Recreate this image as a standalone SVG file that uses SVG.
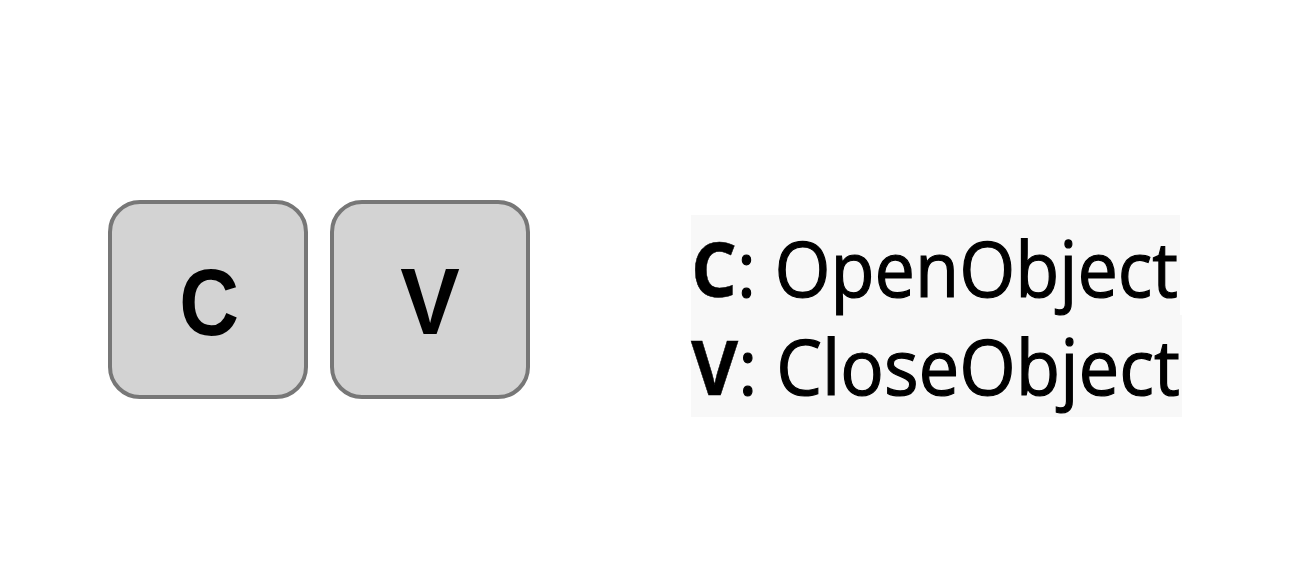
<svg xmlns="http://www.w3.org/2000/svg" width="1315" height="586" viewBox="0 0 1315 586">
<style>
.key{fill:#d3d3d3;stroke:#777;stroke-width:4}
.kl{font-family:"Liberation Sans",Arial,sans-serif;font-weight:bold;font-size:94px;fill:#000;text-anchor:middle}
.lg{font-family:"Open Sans","Noto Sans",sans-serif;font-size:76px;fill:#000;stroke:#000;stroke-width:1.2}
.b{font-weight:bold;stroke-width:0.5}
</style>
<rect width="1315" height="586" fill="#fff"/>
<g id="key-c">
<rect class="key" x="110" y="202" width="196" height="195" rx="30"/>
<text class="kl" transform="translate(209 335) scale(0.88 1)" x="0" y="0">C</text>
</g>
<g id="key-v">
<rect class="key" x="332" y="202" width="196" height="195" rx="30"/>
<text class="kl" transform="translate(430 334) scale(0.95 1)" x="0" y="0">V</text>
</g>
<g id="legend">
<rect x="691" y="215" width="489" height="101" fill="#f8f8f8"/>
<rect x="691" y="315" width="491" height="102" fill="#f8f8f8"/>
<text class="lg" x="691" y="297" textLength="487" lengthAdjust="spacingAndGlyphs"><tspan class="b">C</tspan>: OpenObject</text>
<text class="lg" x="691" y="395" textLength="489" lengthAdjust="spacingAndGlyphs"><tspan class="b">V</tspan>: CloseObject</text>
</g>
</svg>
